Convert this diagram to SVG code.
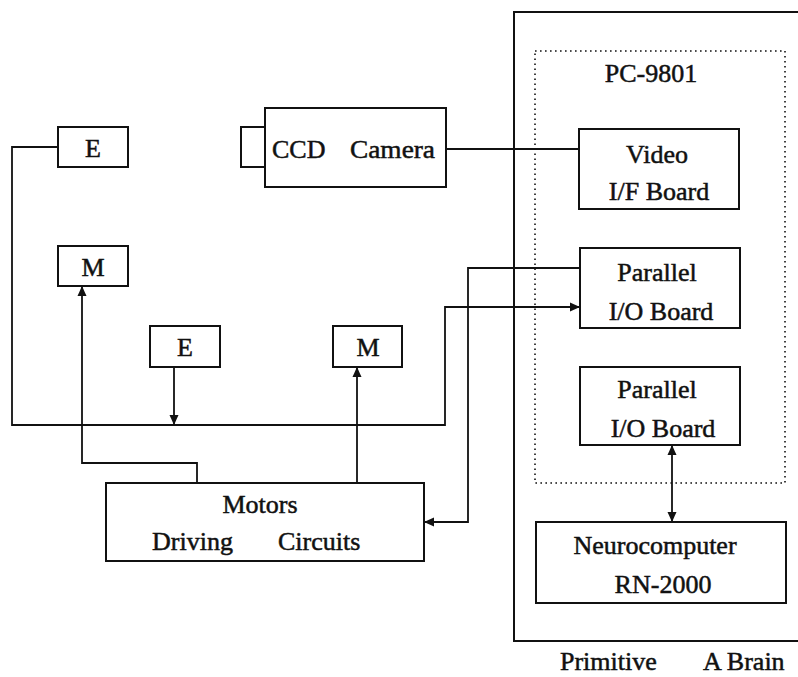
<svg xmlns="http://www.w3.org/2000/svg" width="798" height="677" viewBox="0 0 798 677">
<style>
.box{fill:#fff;stroke:#111;stroke-width:2}
.ln{fill:none;stroke:#111;stroke-width:1.8}
text{font-family:'Liberation Serif','DejaVu Serif','Times New Roman',serif;font-size:26px;fill:#111;stroke:#111;stroke-width:0.5}
.t{text-anchor:middle}
</style>
<defs>
<marker id="arr" markerUnits="userSpaceOnUse" markerWidth="10" markerHeight="10" viewBox="0 0 10 10" refX="10" refY="5" orient="auto-start-reverse">
<path d="M0,0.5 L10,5 L0,9.5 z" fill="#111"/>
</marker>
</defs>
<rect width="798" height="677" fill="#fff"/>
<g id="brain">
<path d="M798,12 H514 V641 H798" fill="none" stroke="#111" stroke-width="2"/>
<text x="560" y="670">Primitive</text>
<text x="703" y="670">A Brain</text>
</g>
<g id="pc9801">
<rect x="535" y="51" width="250" height="432" fill="none" stroke="#111" stroke-width="1.6" stroke-dasharray="1.6 3.4"/>
<text class="t" x="651" y="82">PC-9801</text>
</g>
<g id="connectors">
<line class="ln" x1="446" y1="149" x2="579" y2="149"/>
<path class="ln" d="M58,147 H12 V425 H445 V307 H580" marker-end="url(#arr)"/>
<line class="ln" x1="174" y1="367" x2="174" y2="425" marker-end="url(#arr)"/>
<path class="ln" d="M580,268 H468 V522 H424" marker-end="url(#arr)"/>
<path class="ln" d="M197,483 V463 H82 V286" marker-end="url(#arr)"/>
<line class="ln" x1="357" y1="483" x2="357" y2="367" marker-end="url(#arr)"/>
<line class="ln" x1="672" y1="445" x2="672" y2="522" marker-start="url(#arr)" marker-end="url(#arr)"/>
</g>
<g id="camera">
<rect class="box" x="241" y="127" width="24" height="40"/>
<rect class="box" x="265" y="108" width="181" height="79"/>
<text x="272" y="158">CCD</text>
<text x="350" y="158" textLength="85" lengthAdjust="spacingAndGlyphs">Camera</text>
</g>
<g id="video">
<rect class="box" x="579" y="129" width="160" height="80"/>
<text class="t" x="657" y="163">Video</text>
<text class="t" x="659" y="200">I/F  Board</text>
</g>
<g id="parallel1">
<rect class="box" x="580" y="248" width="160" height="80"/>
<text class="t" x="657" y="281">Parallel</text>
<text class="t" x="661" y="320">I/O  Board</text>
</g>
<g id="parallel2">
<rect class="box" x="580" y="367" width="160" height="78"/>
<text class="t" x="657" y="398">Parallel</text>
<text class="t" x="663" y="437">I/O  Board</text>
</g>
<g id="neuro">
<rect class="box" x="536" y="522" width="250" height="81"/>
<text class="t" x="655" y="554">Neurocomputer</text>
<text class="t" x="663" y="593">RN-2000</text>
</g>
<g id="e1">
<rect class="box" x="58" y="127" width="70" height="40"/>
<text class="t" x="93" y="157">E</text>
</g>
<g id="m1">
<rect class="box" x="58" y="246" width="70" height="40"/>
<text class="t" x="93" y="276">M</text>
</g>
<g id="e2">
<rect class="box" x="150" y="326" width="70" height="41"/>
<text class="t" x="185" y="356">E</text>
</g>
<g id="m2">
<rect class="box" x="333" y="326" width="69" height="41"/>
<text class="t" x="368" y="356">M</text>
</g>
<g id="motors">
<rect class="box" x="106" y="483" width="318" height="78"/>
<text class="t" x="260" y="513">Motors</text>
<text x="152" y="550">Driving</text>
<text x="278" y="550">Circuits</text>
</g>
</svg>
